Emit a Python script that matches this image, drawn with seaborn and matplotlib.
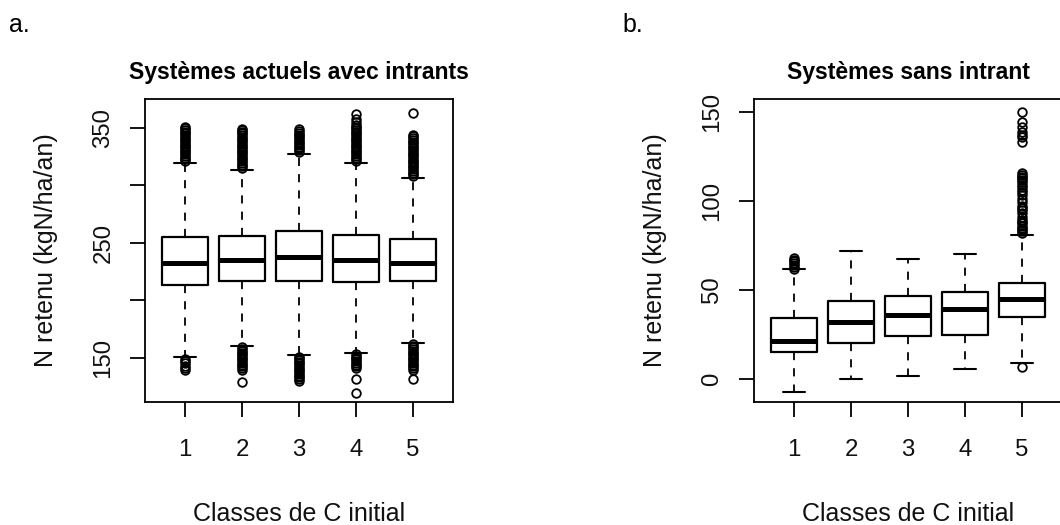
import matplotlib.pyplot as plt
import seaborn as sns

sns.set_theme(style="white")
plt.rcParams['font.family'] = ['Liberation Sans', 'DejaVu Sans']

classes = [1, 2, 3, 4, 5]

# Panel a: Systèmes actuels avec intrants
a_q1 = [213, 217, 217, 215.5, 217]
a_med = [232.5, 235, 238, 235, 232.5]
a_q3 = [255, 256, 260, 257, 253.5]
a_wlo = [150.5, 160, 152.5, 154, 163]
a_whi = [319, 313, 327, 319, 306]
a_out = [
    [321, 322.5, 324, 325.5, 327, 328.5, 330, 331.5, 333, 334.5, 336, 337.5, 339,
     340.5, 342, 343.5, 345, 346.5, 348, 349.5, 351,
     149, 147, 145, 143, 141, 139],
    [315, 316.5, 318, 319.5, 321, 322.5, 324, 325.5, 327, 328.5, 330, 331.5, 333,
     334.5, 336, 337.5, 339, 340.5, 342, 343.5, 345, 346.5, 348, 349,
     159, 157.5, 156, 154.5, 153, 151.5, 150, 148.5, 147, 145.5, 144, 142.5, 141, 139, 129],
    [329, 330.5, 332, 333.5, 335, 336.5, 338, 339.5, 341, 342.5, 344, 345.5, 347, 349,
     151, 149.5, 148, 146.5, 145, 143.5, 142, 140.5, 139, 137.5, 136, 134.5, 133, 131.5, 130],
    [321, 322.5, 324, 325.5, 327, 328.5, 330, 331.5, 333, 334.5, 336, 337.5, 339,
     340.5, 342, 343.5, 345, 346.5, 348, 349.5, 351, 352, 355, 358, 362,
     153, 151.5, 150, 148.5, 147, 145.5, 144, 142.5, 141, 131.5, 119.5],
    [308, 309.5, 311, 312.5, 314, 315.5, 317, 318.5, 320, 321.5, 323, 324.5, 326,
     327.5, 329, 330.5, 332, 333.5, 335, 336.5, 338, 339.5, 341, 342.5, 344, 363,
     162, 160.5, 159, 157.5, 156, 154.5, 153, 151.5, 150, 148.5, 147, 145.5, 144,
     142.5, 141, 139.5, 131.5],
]

# Panel b: Systèmes sans intrant
b_q1 = [15, 20.4, 24.1, 24.9, 35]
b_med = [21.5, 32.2, 35.9, 39.5, 44.9]
b_q3 = [34.1, 43.9, 46.6, 48.7, 54]
b_wlo = [-7.3, 0, 1.7, 5.4, 8.8]
b_whi = [61.9, 71.7, 67.2, 70.1, 80.8]
b_out = [
    [62, 63, 64, 65, 66, 67, 68],
    [],
    [],
    [],
    [82, 83, 84, 85, 86, 87.4, 88, 89, 91.1, 93, 94.8, 96, 97, 99.5, 101, 103, 105.1,
     106, 107.9, 109, 110.7, 111.5, 112.5, 113.5, 114.5, 115.4,
     133.2, 136, 137, 138.8, 141.6, 144.4, 150, 6.6],
]

y_label = "N retenu (kgN/ha/an)"
x_label = "Classes de C initial"

BLACK = "#000000"


def make_stats(q1, med, q3, wlo, whi, outs):
    stats = []
    for i in range(len(q1)):
        stats.append({'q1': q1[i], 'med': med[i], 'q3': q3[i],
                      'whislo': wlo[i], 'whishi': whi[i], 'fliers': outs[i]})
    return stats


def draw_panel(ax, stats, title, yticks, ylabels, ylim):
    ax.bxp(stats, positions=classes, widths=0.8, capwidths=0.4, showfliers=True,
           boxprops=dict(color=BLACK, linewidth=1.6),
           medianprops=dict(color=BLACK, linewidth=3.6, solid_capstyle='butt'),
           whiskerprops=dict(color=BLACK, linewidth=1.3, linestyle=(0, (4.5, 4.5))),
           capprops=dict(color=BLACK, linewidth=1.5),
           flierprops=dict(marker='o', markerfacecolor='none', markeredgecolor=BLACK,
                           markersize=6.2, markeredgewidth=1.3))
    ax.set_xlim(0.3, 5.7)
    ax.set_ylim(*ylim)
    ax.set_xticks(classes)
    ax.set_xticklabels([str(c) for c in classes])
    ax.set_yticks(yticks)
    ax.set_yticklabels(ylabels, rotation=90, va='center')
    for s in ax.spines.values():
        s.set_color(BLACK)
        s.set_linewidth(1.3)
    ax.tick_params(axis='both', direction='out', length=11, width=1.3, color=BLACK,
                   labelsize=17.3, labelcolor='#111111', left=True, bottom=True)
    ax.tick_params(axis='x', pad=16)
    ax.tick_params(axis='y', pad=11)
    ax.set_ylabel(y_label, fontsize=18, color='#111111')
    ax.yaxis.set_label_coords(-0.2987, 0.5)
    ax.yaxis.label.set_va('baseline')
    ax.set_xlabel(x_label, fontsize=18, color='#111111')
    ax.xaxis.set_label_coords(0.5, -0.393)
    ax.xaxis.label.set_va('baseline')
    ax.text(0.5, 1.065, title, transform=ax.transAxes, ha='center', va='baseline',
            fontsize=16.6, fontweight='bold', color=BLACK)
    ax.grid(False)


fig = plt.figure(figsize=(10.6, 5.25), dpi=100)
fig.patch.set_facecolor('white')

ax_a = fig.add_axes([145 / 1060, 123 / 525, 308 / 1060, 303 / 525])
ax_b = fig.add_axes([754 / 1060, 123 / 525, 308 / 1060, 303 / 525])

draw_panel(ax_a, make_stats(a_q1, a_med, a_q3, a_wlo, a_whi, a_out),
           "Systèmes actuels avec intrants",
           [150, 200, 250, 300, 350], ['150', '', '250', '', '350'], (111.5, 375))
draw_panel(ax_b, make_stats(b_q1, b_med, b_q3, b_wlo, b_whi, b_out),
           "Systèmes sans intrant",
           [0, 50, 100, 150], ['0', '50', '100', '150'], (-12.9, 157.1))

fig.text(9 / 1060, 1 - 32 / 525, "a.", fontsize=18, color=BLACK, va='baseline')
fig.text(622 / 1060, 1 - 32 / 525, "b.", fontsize=18, color=BLACK, va='baseline')

fig.savefig('out.png', dpi=100, facecolor='white')
